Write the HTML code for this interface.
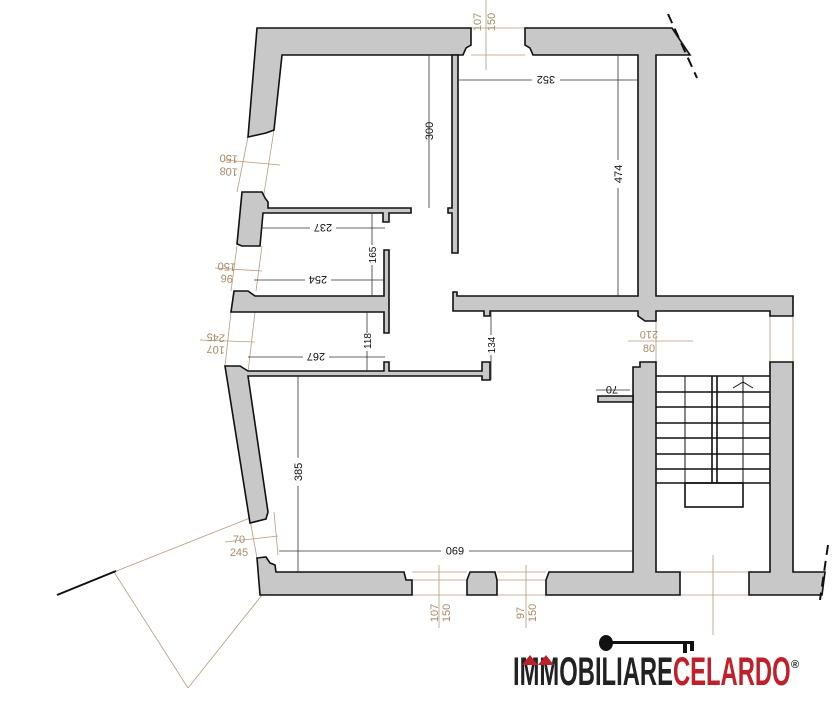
<!DOCTYPE html>
<html><head><meta charset="utf-8"><style>
html,body{margin:0;padding:0;background:#fff;width:833px;height:720px;overflow:hidden}
svg{display:block}
.w{fill:#c8c8c8;stroke:#111;stroke-width:1.6}
.d{stroke:#333;stroke-width:0.8;fill:none}
.t{stroke:#b89a78;stroke-width:0.8;fill:none}
.lt{font-family:"Liberation Sans",sans-serif;font-size:11px;fill:#111}
.tt{font-family:"Liberation Sans",sans-serif;font-size:11px;fill:#a88a68}
.s{stroke:#111;stroke-width:1.6;fill:none}
</style></head><body>
<svg width="833" height="720" viewBox="0 0 833 720">
<g class="t">
<line x1="486" y1="0" x2="486" y2="70"/><line x1="471" y1="28" x2="525" y2="28"/><line x1="471" y1="55" x2="525" y2="55"/>
<line x1="248" y1="137" x2="237" y2="192"/><line x1="274" y1="130" x2="263" y2="200"/><line x1="225" y1="160" x2="280" y2="165"/>
<line x1="237" y1="246" x2="231" y2="291"/><line x1="262" y1="246" x2="256" y2="291"/><line x1="215" y1="268" x2="262" y2="271"/>
<line x1="231" y1="312" x2="225" y2="366"/><line x1="255" y1="312" x2="248" y2="372"/><line x1="200" y1="340" x2="255" y2="342"/>
<line x1="250" y1="520" x2="257" y2="558"/><line x1="274" y1="512" x2="278" y2="555"/><line x1="225" y1="542" x2="278" y2="536"/>
<line x1="250" y1="518" x2="114" y2="572"/><line x1="114" y1="572" x2="188" y2="688"/><line x1="188" y1="688" x2="262" y2="595"/>
<line x1="439" y1="565" x2="439" y2="628"/><line x1="412" y1="572" x2="467" y2="572"/><line x1="412" y1="595" x2="467" y2="595"/><line x1="412" y1="580" x2="467" y2="580"/>
<line x1="526" y1="565" x2="526" y2="628"/><line x1="497" y1="572" x2="546" y2="572"/><line x1="497" y1="595" x2="546" y2="595"/><line x1="497" y1="580" x2="546" y2="580"/>
<line x1="713" y1="555" x2="713" y2="635"/><line x1="680" y1="572" x2="749" y2="572"/><line x1="680" y1="595" x2="749" y2="595"/>
<line x1="656" y1="311" x2="656" y2="362"/><line x1="770" y1="316" x2="770" y2="362"/><line x1="793" y1="316" x2="793" y2="362"/><line x1="628" y1="341" x2="693" y2="341"/>
</g>
<path class="w" d="M257,28 L471,28 L471,45 L466,48 L463,55 L282,55 L274,130 L266,133 L248,137 Z"/>
<path class="w" d="M525,28 L672,28 L690,55 L656,55 L656,296 L793,296 L793,316 L770,316 L770,311 L656,311 L656,321 L645,321 L638,316 L638,311 L490,311 L490,316 L484,316 L484,311 L453,311 L453,292 L457,292 L457,296 L638,296 L638,55 L533,55 L530,48 L525,45 Z"/>
<path class="w" d="M452,55 L458,55 L458,253 L452,253 L452,213 L448,213 L448,208 L452,208 Z"/>
<path class="w" d="M242,192 L262,192 L265,198 L268,202 L268,208 L411,208 L411,213 L389,213 L389,222 L383,222 L383,213 L263,213 L260,246 L242,246 L237,244 Z"/>
<path class="w" d="M234,291 L248,291 L255,296 L384,296 L384,250 L389,250 L389,333 L384,333 L384,312 L255,312 L252,312 L231,312 Z"/>
<path class="w" d="M225,366 L240,366 L248,371 L384,371 L384,362 L389,362 L389,371 L482,371 L482,362 L490,362 L490,380 L482,380 L482,376 L248,376 L268,512 L266,519 L250,523 Z"/>
<path class="w" d="M257,558 L266,557 L270,563 L275,565 L276,572 L404,572 L406,580 L412,580 L412,595 L260,595 Z"/>
<path class="w" d="M470,572 L495,572 L497,580 L497,595 L467,595 L467,580 Z"/>
<path class="w" d="M549,572 L633,572 L633,367 L640,367 L640,362 L656,362 L656,572 L680,572 L680,595 L546,595 L546,580 Z"/>
<path class="w" d="M598,396 L633,396 L633,402 L598,402 Z"/>
<path class="w" d="M770,362 L793,362 L793,572 L825,572 L822,595 L749,595 L749,572 L770,572 Z"/>
<g class="s" stroke-width="1.4">
<line x1="656" y1="376" x2="770" y2="376"/><line x1="656" y1="392" x2="770" y2="392"/><line x1="656" y1="407" x2="770" y2="407"/><line x1="656" y1="423" x2="770" y2="423"/><line x1="656" y1="438" x2="770" y2="438"/><line x1="656" y1="454" x2="770" y2="454"/><line x1="656" y1="469" x2="770" y2="469"/><line x1="656" y1="483" x2="770" y2="483"/>
<line x1="712" y1="376" x2="712" y2="483"/><line x1="717" y1="376" x2="717" y2="483"/>
<rect x="685" y="483" width="58" height="24"/>
<line x1="685" y1="376" x2="685" y2="483" stroke-width="1"/><line x1="743" y1="376" x2="743" y2="483" stroke-width="1"/>
<polyline points="733,388 743,382 753,388" stroke-width="1"/>
</g>
<g stroke="#111" stroke-width="2" stroke-dasharray="10,6"><line x1="668" y1="14" x2="697" y2="78"/><line x1="828" y1="545" x2="820" y2="600"/></g>
<line x1="57" y1="595" x2="116" y2="571" stroke="#111" stroke-width="2"/>
<g class="d">
<line x1="429" y1="55" x2="429" y2="208"/><line x1="458" y1="80" x2="638" y2="80"/><line x1="618" y1="55" x2="618" y2="296"/>
<line x1="261" y1="228" x2="385" y2="228"/><line x1="372" y1="213" x2="372" y2="296"/><line x1="254" y1="280" x2="385" y2="280"/>
<line x1="367" y1="312" x2="367" y2="371"/><line x1="248" y1="357" x2="385" y2="357"/><line x1="491" y1="311" x2="491" y2="380"/>
<line x1="298" y1="376" x2="298" y2="572"/><line x1="279" y1="551" x2="633" y2="551"/><line x1="596" y1="390" x2="630" y2="390"/>
</g>
<g class="lt">
<text transform="translate(433,131) rotate(-90)" text-anchor="middle">300</text>
<rect x="532" y="73" width="28" height="14" fill="#fff"/><text transform="translate(546,76) rotate(180)" text-anchor="middle">352</text>
<rect x="612" y="160" width="14" height="28" fill="#fff"/><text transform="translate(622,174) rotate(-90)" text-anchor="middle">474</text>
<rect x="310" y="221" width="26" height="14" fill="#fff"/><text transform="translate(323,224) rotate(180)" text-anchor="middle">237</text>
<rect x="366" y="245" width="12" height="20" fill="#fff"/><text transform="translate(376,255) rotate(-90)" text-anchor="middle" font-size="10">165</text>
<rect x="305" y="273" width="26" height="14" fill="#fff"/><text transform="translate(318,276) rotate(180)" text-anchor="middle">254</text>
<rect x="361" y="333" width="12" height="18" fill="#fff"/><text transform="translate(371,341) rotate(-90)" text-anchor="middle" font-size="10">118</text>
<rect x="485" y="335" width="12" height="20" fill="#fff"/><text transform="translate(495,345) rotate(-90)" text-anchor="middle" font-size="10">134</text>
<rect x="303" y="350" width="26" height="14" fill="#fff"/><text transform="translate(316,353) rotate(180)" text-anchor="middle">267</text>
<rect x="292" y="458" width="12" height="28" fill="#fff"/><text transform="translate(302,472) rotate(-90)" text-anchor="middle">385</text>
<rect x="441" y="544" width="28" height="14" fill="#fff"/><text transform="translate(455,547) rotate(180)" text-anchor="middle">690</text>
<text transform="translate(612,386) rotate(180)" text-anchor="middle">70</text>
</g>
<g class="tt">
<text transform="translate(481,22) rotate(-90)" text-anchor="middle">107</text><text transform="translate(495,22) rotate(-90)" text-anchor="middle">150</text>
<text transform="translate(229,155) rotate(184)" text-anchor="middle">150</text><text transform="translate(229,168) rotate(184)" text-anchor="middle">108</text>
<text transform="translate(227,263) rotate(184)" text-anchor="middle">150</text><text transform="translate(227,275) rotate(184)" text-anchor="middle">96</text>
<text transform="translate(216,334) rotate(184)" text-anchor="middle">245</text><text transform="translate(216,346) rotate(184)" text-anchor="middle">107</text>
<text x="239" y="543" text-anchor="middle">70</text><text x="239" y="556" text-anchor="middle">245</text>
<text transform="translate(438,605) rotate(-90)" text-anchor="middle" dx="-8">107</text><text transform="translate(450,605) rotate(-90)" text-anchor="middle" dx="-8">150</text>
<text transform="translate(524,605) rotate(-90)" text-anchor="middle" dx="-8">97</text><text transform="translate(536,605) rotate(-90)" text-anchor="middle" dx="-8">150</text>
<text transform="translate(649,331) rotate(180)" text-anchor="middle">210</text><text x="649" y="352" text-anchor="middle">80</text>
</g>
<g fill="#111">
<ellipse cx="606" cy="643" rx="7" ry="8"/><rect x="610" y="641" width="84" height="3"/><rect x="683" y="644" width="4" height="9"/><rect x="690" y="644" width="4" height="7"/>
</g>
<g transform="translate(513,685) scale(0.595,1)">
<text font-family="Liberation Sans,sans-serif" font-size="40" font-weight="bold" fill="#222">IMMOBILIARE<tspan fill="#c0202a">CELARDO</tspan></text>
</g>
<path d="M522,665 L530,655 L538,665 L546,655 L554,665 Z" fill="#c0202a"/>
<text x="791" y="668" font-family="Liberation Sans,sans-serif" font-size="11" font-weight="bold" fill="#222">®</text>
</svg>
</body></html>
